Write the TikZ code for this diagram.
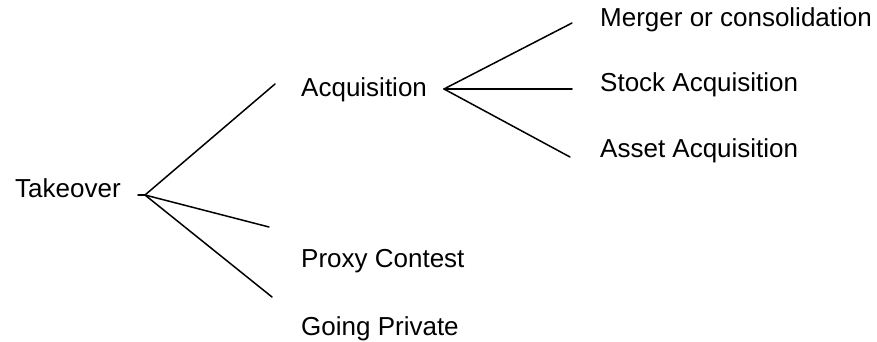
\documentclass[tikz,border=0pt]{standalone}
\usepackage{fontspec}
\setmainfont{Liberation Sans}
\begin{document}
\begin{tikzpicture}[x=1pt,y=-1pt,
  label/.style={anchor=base west, inner sep=0pt, font=\fontsize{26}{31}\selectfont},
  branch/.style={line width=1.5pt, line cap=round}]
\useasboundingbox (0,0) rectangle (877,342);

% labels
\node[label] (take)  at (15,197) {Takeover};
\node[label] (acq)   at (301,97) {Acquisition};
\node[label] (proxy) at (301,267) {Proxy Contest};
\node[label] (priv)  at (301,335) {Going Private};
\node[label] (merge) at (600,27) {Merger or consolidation};
\node[label] (stock) at (600,92) {Stock Acquisition};
\node[label] (asset) at (600,157) {Asset Acquisition};

% branch points and free ends
\coordinate (t0) at (138,195);
\coordinate (t1) at (145,195);
\coordinate (tA) at (275,84);
\coordinate (tP) at (269,227);
\coordinate (tG) at (272,297);
\coordinate (a0) at (444,89);
\coordinate (aM) at (572,23);
\coordinate (aS) at (572,89);
\coordinate (aA) at (570,157);

% first level
\draw[branch] (t0) -- (t1);
\draw[branch] (t1) -- (tA);
\draw[branch] (t1) -- (tP);
\draw[branch] (t1) -- (tG);

% second level
\draw[branch] (a0) -- (aM);
\draw[branch] (a0) -- (aS);
\draw[branch] (a0) -- (aA);
\end{tikzpicture}
\end{document}
